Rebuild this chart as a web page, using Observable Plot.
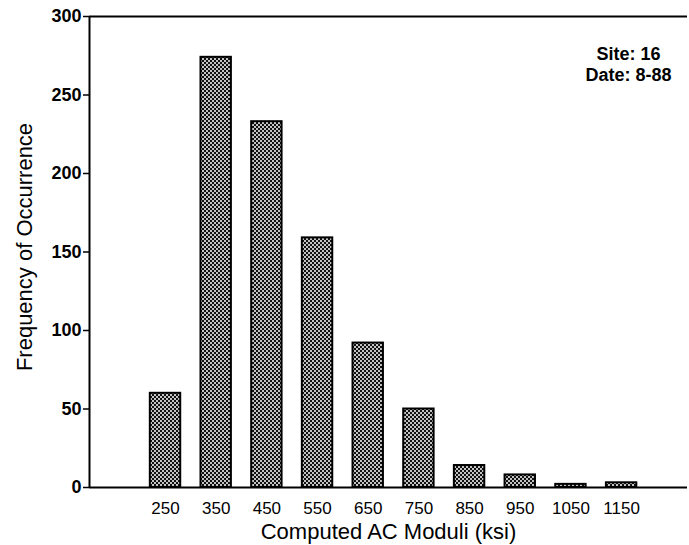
<!DOCTYPE html>
<html>
<head>
<meta charset="utf-8">
<script src="https://cdn.jsdelivr.net/npm/d3@7"></script>
<script src="https://cdn.jsdelivr.net/npm/@observablehq/plot@0.6"></script>
<style>
  html, body { margin: 0; padding: 0; background: white; }
</style>
</head>
<body>
<div id="chart"></div>
<script>
// Data
const moduli = [250, 350, 450, 550, 650, 750, 850, 950, 1050, 1150];
const counts = [60, 274, 233, 159, 92, 50, 14, 8, 2, 3];
const yTicks = [0, 50, 100, 150, 200, 250, 300];
const xTitle = "Computed AC Moduli (ksi)";
const yTitle = "Frequency of Occurrence";
const annotation = ["Site: 16", "Date: 8-88"];

const data = moduli.map((m, i) => ({m, count: counts[i]}));
const halfWidth = 30;

const chart = Plot.plot({
  width: 689,
  height: 545,
  marginLeft: 89,
  marginRight: 2,
  marginTop: 16,
  marginBottom: 58,
  style: {fontFamily: "'Liberation Sans', Arial, Helvetica, sans-serif", background: "white", color: "black"},
  x: {type: "linear", domain: [100, 1280], label: null},
  y: {domain: [0, 300], label: null},
  marks: [
    Plot.rectY(data, {
      x1: d => d.m - halfWidth,
      x2: d => d.m + halfWidth,
      y1: 0,
      y2: "count",
      fill: "url(#xhatch)",
      stroke: "black",
      strokeWidth: 2
    }),
    Plot.ruleY([300], {stroke: "black", strokeWidth: 2}),
    Plot.ruleY([0], {stroke: "black", strokeWidth: 2}),
    Plot.ruleX([100], {stroke: "black", strokeWidth: 2}),
    Plot.axisY({ticks: yTicks, tickSize: 6, tickPadding: 2, fontSize: 18, fontWeight: "bold", label: null, strokeWidth: 1.5}),
    Plot.axisX({ticks: moduli, tickSize: 0, tickPadding: 14, fontSize: 17, label: null, tickFormat: d => String(d)}),
    Plot.text([xTitle], {frameAnchor: "bottom", dy: 44, fontSize: 22, lineAnchor: "middle"}),
    Plot.text([yTitle], {frameAnchor: "left", rotate: -90, dx: -65, dy: -5, fontSize: 22, textAnchor: "middle", lineAnchor: "middle"}),
    Plot.text([annotation.join("\n")], {frameAnchor: "top-right", dx: -59, dy: 28, textAnchor: "middle", lineAnchor: "top", fontSize: 18, fontWeight: "bold", lineHeight: 1.2})
  ]
});

// crosshatch pattern for bar fills
const svg = d3.select(chart.tagName.toLowerCase() === "svg" ? chart : chart.querySelector("svg"));
const defs = svg.insert("defs", ":first-child");
const pat = defs.append("pattern")
  .attr("id", "xhatch")
  .attr("patternUnits", "userSpaceOnUse")
  .attr("width", 4)
  .attr("height", 4);
pat.append("rect").attr("width", 4).attr("height", 4).attr("fill", "#111");
pat.append("circle").attr("cx", 1).attr("cy", 1).attr("r", 1.0).attr("fill", "white");
pat.append("circle").attr("cx", 3).attr("cy", 3).attr("r", 1.0).attr("fill", "white");

svg.selectAll('[aria-label="y-axis tick label"] text').style("font-weight", "bold");

document.getElementById("chart").appendChild(chart);
</script>
</body>
</html>
